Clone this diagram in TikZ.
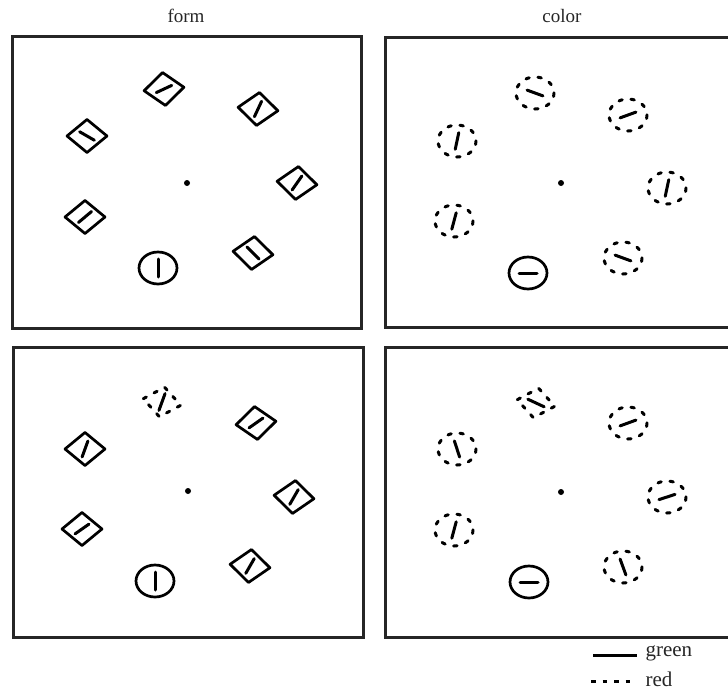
\documentclass[tikz,border=0pt]{standalone}
\usepackage{fontspec}
\setmainfont{Liberation Serif}
\begin{document}
\begin{tikzpicture}[x=1pt,y=-1pt,
  frame/.style={line width=3pt, draw=black!85},
  shp/.style={line width=2.7pt, line join=round},
  bar/.style={line width=3pt, line cap=round},
  rdash/.style={line width=3pt, line cap=round, dash pattern=on 3.5pt off 8.7pt},
  title/.style={font=\fontsize{19}{21}\selectfont, text=black!85},
  legtext/.style={font=\fontsize{21}{23}\selectfont, anchor=west, text=black!85},
  dia/.pic={\draw[shp] (-20,0) -- (0,-16.5) -- (20,0) -- (0,16.5) -- cycle;
            \draw[bar,rotate=#1] (-8.5,0) -- (8.5,0);},
  rdia/.pic={\draw[rdash] (-19,0) -- (0,-15) -- (19,0) -- (0,15) -- cycle;
            \draw[bar,rotate=#1] (-9,0) -- (9,0);},
  rc/.pic={\draw[rdash] (0,0) ellipse [x radius=19, y radius=16];
           \draw[bar,rotate=#1] (-8.5,0) -- (8.5,0);},
  gc/.pic={\draw[shp] (0,0) ellipse [x radius=19, y radius=16];
           \draw[bar,rotate=#1] (-9,0) -- (9,0);},
  fix/.pic={\fill (0,0) circle [radius=3];}
]
\useasboundingbox (0,0) rectangle (728,690);
% titles
\node[title] (tform) at (186,16) {form};
\node[title] (tcolor) at (562,16) {color};
% frames
\draw[frame] (12,37) rectangle (361,328);
\draw[frame] (385,38) rectangle (745,327);
\draw[frame] (13,347) rectangle (363,637);
\draw[frame] (385,347) rectangle (745,637);
% panel 1 (form)
\pic (f1) at (187,183) {fix};
\pic[rotate=5] (f1a) at (164,89) {dia=20};
\pic[rotate=-5] (f1b) at (258,109) {dia=70};
\pic (f1c) at (87,136) {dia=-30};
\pic[rotate=-5] (f1d) at (297,183) {dia=60};
\pic (f1e) at (85,217) {dia=40};
\pic[rotate=-5] (f1f) at (253,253) {dia=-40};
\pic (f1g) at (158,268) {gc=90};
% panel 2 (color)
\pic (c1) at (561,183) {fix};
\pic (c1a) at (535,93) {rc=-20};
\pic (c1b) at (628,115) {rc=20};
\pic (c1c) at (457,141) {rc=78};
\pic (c1d) at (667,188) {rc=78};
\pic (c1e) at (454,221) {rc=75};
\pic (c1f) at (623,258) {rc=-20};
\pic (c1g) at (528,273) {gc=0};
% panel 3 (form)
\pic (f2) at (188,491) {fix};
\pic[rotate=-10] (f2a) at (162,402) {rdia=80};
\pic[rotate=5] (f2b) at (256,423) {dia=30};
\pic (f2c) at (85,449) {dia=70};
\pic[rotate=-5] (f2d) at (294,497) {dia=65};
\pic (f2e) at (82,529) {dia=35};
\pic[rotate=-5] (f2f) at (250,566) {dia=65};
\pic (f2g) at (155,581) {gc=90};
% panel 4 (color)
\pic (c2) at (561,492) {fix};
\pic[rotate=-10] (c2a) at (536,403) {rdia=-15};
\pic (c2b) at (628,423) {rc=20};
\pic (c2c) at (457,449) {rc=-72};
\pic (c2d) at (667,497) {rc=18};
\pic (c2e) at (454,530) {rc=75};
\pic (c2f) at (623,567) {rc=-70};
\pic (c2g) at (529,582) {gc=0};
% legend
\coordinate (lg1) at (593,655);
\coordinate (lg2) at (637,655);
\coordinate (lr1) at (591,681);
\coordinate (lr2) at (637,681);
\draw[line width=3pt] (lg1) -- (lg2);
\draw[line width=3pt, dash pattern=on 4.5pt off 7pt] (lr1) -- (lr2);
\node[legtext] (lgreen) at (642,653) {green};
\node[legtext] (lred) at (642,679) {red};
\end{tikzpicture}
\end{document}
